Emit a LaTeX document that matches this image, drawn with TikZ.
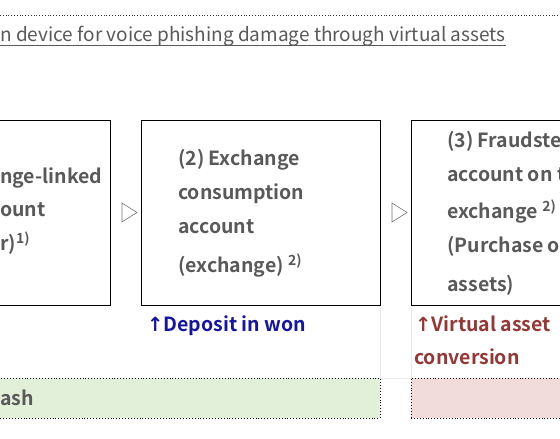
\documentclass[tikz,border=0pt]{standalone}
\usepackage{fontspec}
\setmainfont{Noto Sans CJK KR}[BoldFont={Noto Sans CJK KR Bold}]
\newfontfamily\arrowfont{DejaVu Sans}
\definecolor{txtgray}{RGB}{89,89,89}
\definecolor{depblue}{RGB}{20,20,165}
\definecolor{convred}{RGB}{149,55,53}
\definecolor{cashgreen}{RGB}{226,239,217}
\definecolor{vapink}{RGB}{242,220,219}
\definecolor{faint}{RGB}{232,232,232}
\newcommand{\supnote}[1]{\raisebox{7pt}{\fontsize{14}{14}\selectfont #1}}
\begin{document}
\begin{tikzpicture}[x=1pt,y=-1pt,
  txt/.style={anchor=base west, inner sep=0pt, text=txtgray,
    font=\fontsize{19.5}{20}\selectfont\bfseries},
  stepbox/.style={draw=black, line width=1pt, minimum height=185pt, inner sep=0pt},
  band/.style={draw=black, dotted, line width=0.9pt, minimum height=40pt, inner sep=0pt},
  tri/.style={draw=black!55, line width=0.6pt},
  note/.style={anchor=base west, inner sep=0pt,
    font=\fontsize{19.5}{20}\selectfont\bfseries}]
\useasboundingbox (0,0) rectangle (560,439);
\clip (0,0) rectangle (560,439);
% top dotted rule and title
\draw[dotted, line width=0.8pt, black!80] (0,15) -- (560,15);
\node[anchor=base west, inner sep=0pt, text=txtgray,
  font=\fontsize{19}{20}\selectfont] (title) at (0,41)
  {\llap{Preventio}n device for voice phishing damage through virtual assets};
\draw[txtgray, line width=0.8pt] ([yshift=-4pt]title.base west) -- ([yshift=-4pt]title.base east);
% faint table lines
\draw[faint, line width=0.6pt] (380,305) -- (380,378) (411,305) -- (411,378) (380,378) -- (411,378);
% step boxes
\node[stepbox, minimum width=250pt] (box1) at (-15,212.5) {};
\node[stepbox, minimum width=239pt] (box2) at (260.5,212.5) {};
\node[stepbox, minimum width=239pt] (box3) at (530.5,212.5) {};
% triangles between boxes
\draw[tri] (122,203) -- (137,212.5) -- (122,222) -- cycle;
\draw[tri] (392,203) -- (407,212.5) -- (392,222) -- cycle;
% box 1 text
\node[txt] (b1a) at (0,183) {\llap{(1) Excha}nge-linked};
\node[txt] (b1b) at (0,216) {\llap{bank acc}ount};
\node[txt] (b1c) at (0,250) {\llap{(fraudste}r)\supnote{1)}};
% box 2 text
\node[txt] (b2a) at (178,165) {(2) Exchange};
\node[txt] (b2b) at (178,199) {consumption};
\node[txt] (b2c) at (178,233) {account};
\node[txt] (b2d) at (178,272) {(exchange) \supnote{2)}};
% box 3 text
\node[txt] (b3a) at (447,147) {(3) Fraudster's};
\node[txt] (b3b) at (447,181) {account on the};
\node[txt] (b3c) at (447,218) {exchange \supnote{2)}};
\node[txt] (b3d) at (447,252) {(Purchase of virtual};
\node[txt] (b3e) at (447,291) {assets)};
% notes
\node[note, text=depblue] (dep) at (147,331) {{\arrowfont\bfseries ↑}Deposit in won};
\node[note, text=convred] (conv1) at (415,331) {{\arrowfont\bfseries ↑}Virtual asset};
\node[note, text=convred] (conv2) at (414,364) {conversion};
% bands
\node[band, fill=cashgreen, minimum width=400pt] (cash) at (180,398) {};
\node[band, fill=vapink, minimum width=200pt] (va) at (511,398) {};
\node[txt] (cashtxt) at (0,405) {\llap{C}ash};
\end{tikzpicture}
\end{document}
